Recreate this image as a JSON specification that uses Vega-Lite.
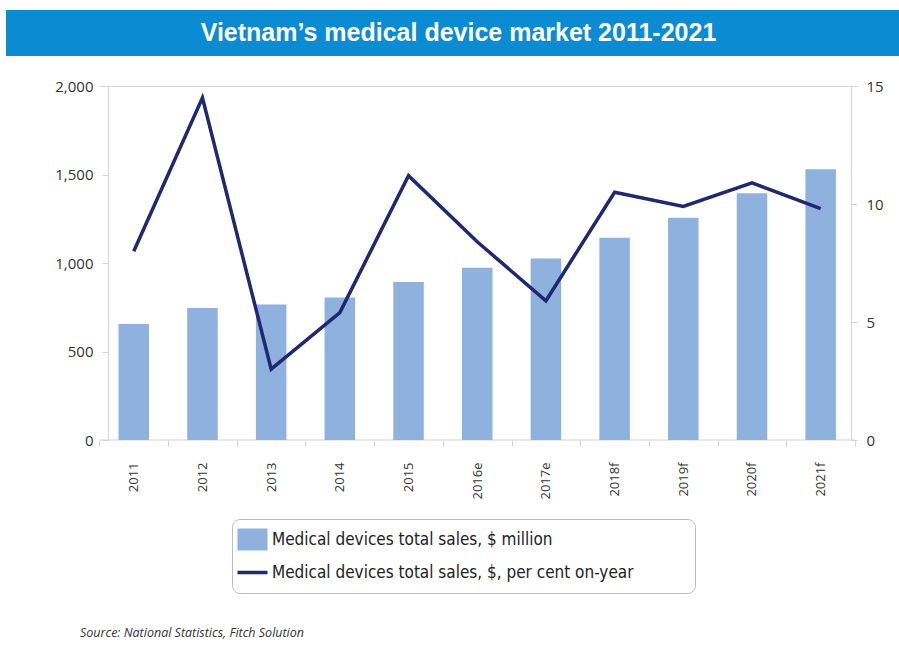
{
  "$schema": "https://vega.github.io/schema/vega-lite/v6.json",
  "width": 893,
  "height": 354,
  "autosize": "none",
  "padding": {"left": 6, "top": 86, "right": 0, "bottom": 211},
  "background": "white",
  "config": {"view": {"stroke": null}, "font": "Open Sans"},
  "title": {
    "text": "Source: National Statistics, Fitch Solution",
    "orient": "bottom",
    "anchor": "start",
    "frame": "group",
    "dx": 74,
    "offset": 33,
    "font": "Open Sans",
    "fontSize": 12.5,
    "fontStyle": "italic",
    "fontWeight": "normal",
    "color": "#333333"
  },
  "data": {
    "values": [
      {"year": "2011", "sales": 655, "growth": 8.0},
      {"year": "2012", "sales": 746, "growth": 14.5},
      {"year": "2013", "sales": 765, "growth": 3.0},
      {"year": "2014", "sales": 805, "growth": 5.4},
      {"year": "2015", "sales": 892, "growth": 11.2},
      {"year": "2016e", "sales": 973, "growth": 8.4},
      {"year": "2017e", "sales": 1026, "growth": 5.9},
      {"year": "2018f", "sales": 1143, "growth": 10.5},
      {"year": "2019f", "sales": 1256, "growth": 9.9},
      {"year": "2020f", "sales": 1394, "growth": 10.9},
      {"year": "2021f", "sales": 1529, "growth": 9.8}
    ]
  },
  "layer": [
    {
      "layer": [
        {
          "data": {"values": [{"title": "Vietnam’s medical device market 2011-2021"}]},
          "mark": {"type": "rect", "color": "#0a8bd2"},
          "encoding": {
            "y": {"datum": 2429.4},
            "y2": {"datum": 2169.5}
          }
        },
        {
          "data": {"values": [{"title": "Vietnam’s medical device market 2011-2021"}]},
          "mark": {"type": "text", "color": "white", "fontSize": 25, "fontWeight": "bold", "font": "Liberation Sans", "baseline": "middle", "dx": 6},
          "encoding": {
            "text": {"field": "title"},
            "y": {"datum": 2299}
          }
        },
        {
          "mark": {"type": "bar", "color": "#d4d4d4", "width": {"band": 1}},
          "encoding": {
            "x": {"field": "year", "type": "nominal", "sort": null},
            "y": {"datum": 2000},
            "y2": {"datum": 1994.4}
          }
        },
        {
          "mark": {"type": "bar", "color": "#d4d4d4", "width": {"band": 1}},
          "encoding": {
            "x": {"field": "year", "type": "nominal", "sort": null},
            "y": {"datum": 2.8},
            "y2": {"datum": -2.8}
          }
        },
        {
          "mark": {"type": "bar", "width": {"band": 0.444}},
          "encoding": {
            "x": {
              "field": "year",
              "type": "nominal",
              "sort": null,
              "scale": {"type": "band", "paddingInner": 0, "paddingOuter": 1.1104, "align": 0.68},
              "axis": {
                "title": null,
                "labelAngle": -90,
                "domain": false,
                "tickBand": "extent",
                "tickSize": 6,
                "tickColor": "#d4d4d4",
                "labelFontSize": 13,
                "labelFont": "Open Sans",
                "labelPadding": 16,
                "labelColor": "#333333"
              }
            },
            "y": {
              "field": "sales",
              "type": "quantitative",
              "scale": {"domain": [0, 2000]},
              "axis": {
                "orient": "left",
                "offset": -102,
                "values": [0, 500, 1000, 1500, 2000],
                "format": ",.0f",
                "grid": false,
                "title": null,
                "domainColor": "#d4d4d4",
                "tickColor": "#d4d4d4",
                "tickSize": 6,
                "labelFontSize": 15,
                "labelFont": "Open Sans",
                "labelColor": "#333333",
                "labelPadding": 9
              }
            },
            "color": {
              "datum": "Medical devices total sales, $ million",
              "type": "nominal",
              "scale": {
                "domain": ["Medical devices total sales, $ million", "Medical devices total sales, $, per cent on-year"],
                "range": ["#8fb1dd", "#1f2870"]
              },
              "legend": {
                "orient": "none",
                "legendX": 226,
                "legendY": 433,
                "title": null,
                "direction": "vertical",
                "strokeColor": "#bdbdbd",
                "cornerRadius": 8,
                "padding": 12,
                "fillColor": "white",
                "labelFont": "Liberation Sans Narrow, DejaVu Sans Condensed, Roboto",
                "labelFontSize": 17,
                "labelColor": "#222222",
                "labelLimit": 700,
                "labelExpr": "datum.label + '\u00a0\u00a0\u00a0\u00a0\u00a0\u00a0\u00a0\u00a0\u00a0\u00a0\u200b'",
                "symbolSize": 900,
                "rowPadding": 12,
                "labelOffset": 11,
                "symbolType": "M-1,-0.73H1V0.73H-1Z",
                "encode": {
                  "symbols": {
                    "update": {
                      "shape": {"signal": "datum.index === 0 ? 'M-1,-0.73H1V0.73H-1Z' : 'M-1,0H1'"},
                      "fill": {"signal": "datum.index === 0 ? '#8fb1dd' : 'transparent'"},
                      "stroke": {"signal": "datum.index === 0 ? 'transparent' : '#1f2870'"},
                      "strokeWidth": {"signal": "datum.index === 0 ? 0 : 3.5"},
                      "opacity": {"value": 1}
                    }
                  }
                }
              }
            }
          }
        }
      ]
    },
    {
      "mark": {"type": "line", "strokeWidth": 3.5},
      "encoding": {
        "x": {"field": "year", "type": "nominal", "sort": null},
        "y": {
          "field": "growth",
          "type": "quantitative",
          "scale": {"domain": [0, 15]},
          "axis": {
            "orient": "right",
            "offset": -48,
            "values": [0, 5, 10, 15],
            "grid": false,
            "title": null,
            "domainColor": "#d4d4d4",
            "tickColor": "#d4d4d4",
            "tickSize": 6,
            "labelFontSize": 15,
            "labelFont": "Open Sans",
            "labelColor": "#333333",
            "labelPadding": 9
          }
        },
        "color": {"datum": "Medical devices total sales, $, per cent on-year", "type": "nominal"}
      }
    }
  ],
  "resolve": {"scale": {"y": "independent"}}
}
